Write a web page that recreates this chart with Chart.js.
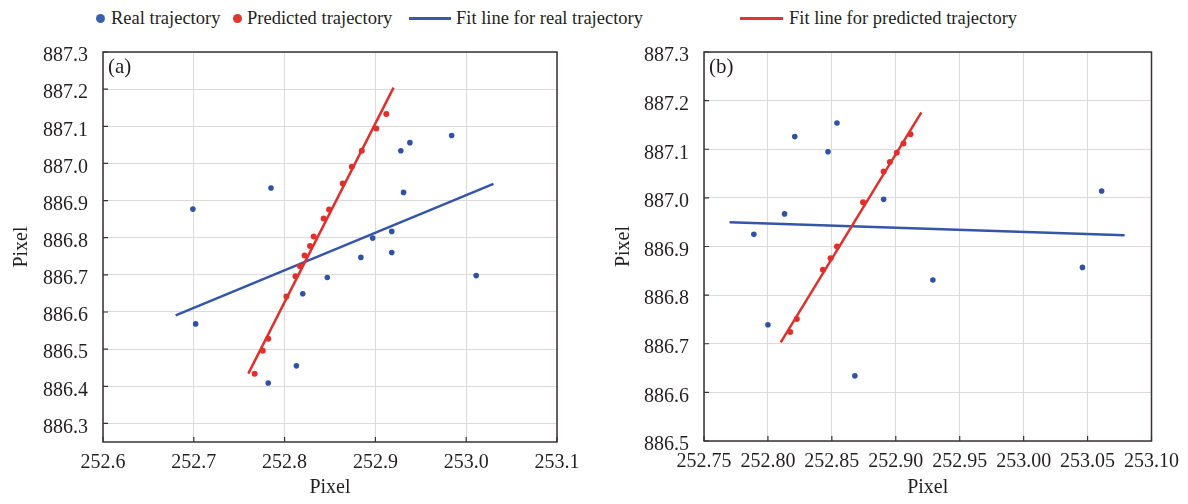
<!DOCTYPE html>
<html><head><meta charset="utf-8">
<script src="https://cdn.jsdelivr.net/npm/chart.js@4.4.0/dist/chart.umd.min.js"></script>
<style>
body{margin:0;width:1188px;height:504px;background:#fff;position:relative;overflow:hidden;font-family:'Liberation Serif',serif;}
#ca{position:absolute;left:0;top:0;}
#cb{position:absolute;left:594px;top:0;}
.lt{position:absolute;top:9px;font-size:18.5px;line-height:1;color:#231f20;white-space:nowrap;font-family:'Liberation Serif',serif;}
.ld{position:absolute;width:9px;height:9px;border-radius:50%;top:13.5px;}
.ll{position:absolute;height:3px;top:17px;}
</style>
</head><body>
<div class="ld" style="left:95.5px;background:#3a60ad"></div><div class="lt" style="left:111px">Real trajectory</div>
<div class="ld" style="left:232.5px;background:#e03530"></div><div class="lt" style="left:247px">Predicted trajectory</div>
<div class="ll" style="left:409px;width:42px;background:#3a5aa8"></div><div class="lt" style="left:456px">Fit line for real trajectory</div>
<div class="ll" style="left:740px;width:43px;background:#e03530"></div><div class="lt" style="left:789px">Fit line for predicted trajectory</div>
<canvas id="ca" width="594" height="504"></canvas>
<canvas id="cb" width="594" height="504"></canvas>
<script>
// ---- Panel (a) ----
const realAx = [252.699, 252.785, 252.928, 252.938, 252.984, 252.931, 252.918, 252.897, 252.918, 252.884, 252.847, 252.820, 253.011, 252.813, 252.702, 252.782];
const realAy = [886.877, 886.934, 887.034, 887.056, 887.075, 886.922, 886.817, 886.799, 886.760, 886.747, 886.693, 886.649, 886.698, 886.455, 886.568, 886.409];
const predAx = [252.767, 252.776, 252.782, 252.802, 252.812, 252.817, 252.822, 252.828, 252.832, 252.843, 252.849, 252.864, 252.874, 252.885, 252.901, 252.912];
const predAy = [886.434, 886.496, 886.528, 886.642, 886.696, 886.723, 886.752, 886.778, 886.803, 886.852, 886.876, 886.946, 886.991, 887.034, 887.094, 887.133];
const fitRealAx = [252.680, 253.030];
const fitRealAy = [886.591, 886.945];
const fitPredAx = [252.760, 252.920];
const fitPredAy = [886.434, 887.204];
const xTicksA = [252.6, 252.7, 252.8, 252.9, 253.0, 253.1];
const yTicksA = [886.3, 886.4, 886.5, 886.6, 886.7, 886.8, 886.9, 887.0, 887.1, 887.2, 887.3];

// ---- Panel (b) ----
const realBx = [252.789, 252.813, 252.821, 252.847, 252.854, 252.8905, 252.800, 252.868, 253.061, 252.929, 253.046];
const realBy = [886.925, 886.967, 887.126, 887.095, 887.154, 886.997, 886.739, 886.634, 887.014, 886.831, 886.857];
const predBx = [252.8174, 252.8226, 252.843, 252.849, 252.854, 252.8744, 252.8905, 252.8954, 252.9008, 252.906, 252.9115];
const predBy = [886.724, 886.751, 886.852, 886.876, 886.900, 886.991, 887.054, 887.074, 887.093, 887.112, 887.131];
const fitRealBx = [252.770, 253.079];
const fitRealBy = [886.950, 886.923];
const fitPredBx = [252.810, 252.920];
const fitPredBy = [886.703, 887.176];
const xTicksB = [252.75, 252.80, 252.85, 252.90, 252.95, 253.00, 253.05, 253.10];
const yTicksB = [886.5, 886.6, 886.7, 886.8, 886.9, 887.0, 887.1, 887.2, 887.3];

const BLUE = '#2f52a3', RED = '#e0302c', BLUE_L = '#3556a6';
const FONT = "'Liberation Serif', serif";
const TXT = '#231f20';
const pts = (xs, ys) => xs.map((x, i) => ({x, y: ys[i]}));

const framePlugin = {
  id: 'frame',
  afterDraw(chart, args, opts) {
    const {ctx, chartArea: {left, top, right, bottom}, scales: {x, y}} = chart;
    ctx.save();
    ctx.strokeStyle = '#3b3232';
    ctx.lineWidth = 1.5;
    ctx.strokeRect(left, top, right - left, bottom - top);
    ctx.lineWidth = 1.2;
    ctx.beginPath();
    y.ticks.forEach(t => { const p = y.getPixelForValue(t.value); ctx.moveTo(left, p); ctx.lineTo(left + 5, p); });
    x.ticks.forEach(t => { const p = x.getPixelForValue(t.value); ctx.moveTo(p, bottom); ctx.lineTo(p, bottom - 5); });
    ctx.stroke();
    ctx.font = '21px ' + FONT;
    ctx.fillStyle = TXT;
    ctx.textBaseline = 'alphabetic';
    ctx.fillText(opts.label, left + 5, top + 21);
    ctx.restore();
  }
};

function make(id, cfg) {
  return new Chart(document.getElementById(id), {
    type: 'scatter',
    data: {
      datasets: [
        {label: 'Fit line for real trajectory', data: pts(cfg.frx, cfg.fry), showLine: true, borderColor: BLUE_L, borderWidth: 2.5, pointRadius: 0, order: 3},
        {label: 'Fit line for predicted trajectory', data: pts(cfg.fpx, cfg.fpy), showLine: true, borderColor: RED, borderWidth: 2.5, pointRadius: 0, order: 2},
        {label: 'Real trajectory', data: pts(cfg.rx, cfg.ry), backgroundColor: BLUE, borderColor: BLUE, pointRadius: 2.8, borderWidth: 0, order: 1},
        {label: 'Predicted trajectory', data: pts(cfg.px, cfg.py), backgroundColor: RED, borderColor: RED, pointRadius: 3, borderWidth: 0, order: 0}
      ]
    },
    options: {
      responsive: false, animation: false, devicePixelRatio: 1,
      layout: {padding: {top: 52, right: cfg.padR, left: 0, bottom: 0}},
      plugins: {legend: {display: false}, tooltip: {enabled: false}, frame: {label: cfg.label}},
      scales: {
        x: {
          type: 'linear', min: cfg.xMin, max: cfg.xMax,
          afterBuildTicks: s => { s.ticks = cfg.xTicks.map(v => ({value: v})); },
          afterFit: s => { s.height = cfg.xH; },
          grid: {color: '#dadada', lineWidth: 1, drawTicks: false},
          border: {display: false},
          ticks: {padding: 9, color: TXT, font: {family: FONT, size: 20}, maxRotation: 0, autoSkip: false,
                  callback: v => Number(v).toFixed(cfg.xDec)},
          title: {display: true, text: 'Pixel', color: TXT, font: {family: FONT, size: 20}, padding: {top: 0, bottom: 4}}
        },
        y: {
          type: 'linear', min: cfg.yMin, max: cfg.yMax,
          afterBuildTicks: s => { s.ticks = cfg.yTicks.map(v => ({value: v})); },
          afterFit: s => { s.width = cfg.yW; },
          grid: {color: '#dadada', lineWidth: 1, drawTicks: false},
          border: {display: false},
          ticks: {padding: 15, labelOffset: 4, color: TXT, font: {family: FONT, size: 20}, autoSkip: false,
                  callback: v => Number(v).toFixed(1)},
          title: {display: true, text: 'Pixel', color: TXT, font: {family: FONT, size: 20}, padding: {top: cfg.tPad, bottom: 0}}
        }
      }
    },
    plugins: [framePlugin]
  });
}

make('ca', {rx: realAx, ry: realAy, px: predAx, py: predAy, frx: fitRealAx, fry: fitRealAy, fpx: fitPredAx, fpy: fitPredAy,
  xTicks: xTicksA, yTicks: yTicksA, xMin: 252.6, xMax: 253.1, yMin: 886.25, yMax: 887.3, xDec: 1,
  yW: 103, xH: 62, padR: 37, tPad: 10, label: '(a)'});
make('cb', {rx: realBx, ry: realBy, px: predBx, py: predBy, frx: fitRealBx, fry: fitRealBy, fpx: fitPredBx, fpy: fitPredBy,
  xTicks: xTicksB, yTicks: yTicksB, xMin: 252.75, xMax: 253.10, yMin: 886.5, yMax: 887.3, xDec: 2,
  yW: 110, xH: 63, padR: 29.5, tPad: 18, label: '(b)'});
</script>
</body></html>
